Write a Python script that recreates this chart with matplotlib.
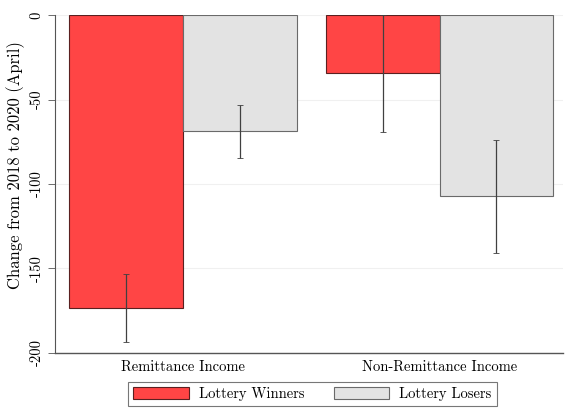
import matplotlib
matplotlib.use('Agg')
import matplotlib.pyplot as plt
from matplotlib.patches import Patch
import numpy as np

plt.rcParams['font.family'] = 'serif'
plt.rcParams['font.serif'] = ['cmr10', 'DejaVu Serif']
plt.rcParams['axes.unicode_minus'] = False

groups = ['Remittance Income', 'Non-Remittance Income']
series = ['Lottery Winners', 'Lottery Losers']
winners = [-173.4, -34.3]
winners_lo = [-193.5, -69.5]
winners_hi = [-153.3, 0.0]
losers = [-68.6, -107.1]
losers_lo = [-84.6, -140.8]
losers_hi = [-53.3, -74.0]
yticks = [0, -50, -100, -150, -200]

red = '#ff4545'
grey = '#e3e3e3'

fig = plt.figure(figsize=(5.65, 4.08), dpi=100)
ax = fig.add_axes([0.0973, 0.135, 0.9, 0.828])

pos = np.array([0.0, 2.26])
w = 1.0
ax.bar(pos, winners, w, color=red, edgecolor='#5a2020', linewidth=0.8, zorder=2)
ax.bar(pos + w, losers, w, color=grey, edgecolor='#6a6a6a', linewidth=0.8, zorder=2)

err_kw = dict(fmt='none', ecolor='#404040', elinewidth=0.9, capsize=2, capthick=0.6, zorder=3)
ax.errorbar(pos, winners,
            yerr=[np.array(winners) - np.array(winners_lo), np.array(winners_hi) - np.array(winners)],
            **err_kw)
ax.errorbar(pos + w, losers,
            yerr=[np.array(losers) - np.array(losers_lo), np.array(losers_hi) - np.array(losers)],
            **err_kw)

ax.set_xlim(-0.627, 3.85)
ax.set_ylim(-200, 0)
ax.set_yticks(yticks)
ax.set_yticklabels([str(t) for t in yticks], rotation=90, va='center', fontsize=10.5)
ax.set_xticks(pos + w / 2)
ax.set_xticklabels(groups, fontsize=10.5)
ax.tick_params(axis='x', length=0, pad=5)
ax.tick_params(axis='y', length=5, width=0.6, color='#555555', pad=3)
ax.set_ylabel('Change from 2018 to 2020 (April)', fontsize=12)
ax.yaxis.set_label_coords(-0.058, 0.556)

ax.yaxis.grid(True, color='#f0f0f0', linewidth=0.8, zorder=0)
ax.set_axisbelow(True)
for s in ['top', 'right']:
    ax.spines[s].set_visible(False)
ax.spines['left'].set_color('#555555')
ax.spines['bottom'].set_color('#555555')
ax.spines['left'].set_linewidth(0.8)
ax.spines['bottom'].set_linewidth(1.0)

handles = [Patch(facecolor=red, edgecolor='#5a2020', linewidth=0.8),
           Patch(facecolor=grey, edgecolor='#6a6a6a', linewidth=0.8)]
leg = fig.legend(handles, series, loc='lower center', bbox_to_anchor=(0.553, -0.003), ncol=2,
                 fontsize=10.5, frameon=True, fancybox=False, edgecolor='#555555',
                 handlelength=3.8, handleheight=0.9, columnspacing=2.0, handletextpad=0.7,
                 borderpad=0.35, borderaxespad=0.2)
leg.get_frame().set_linewidth(0.8)

fig.savefig('out.png', dpi=100, facecolor='white')
